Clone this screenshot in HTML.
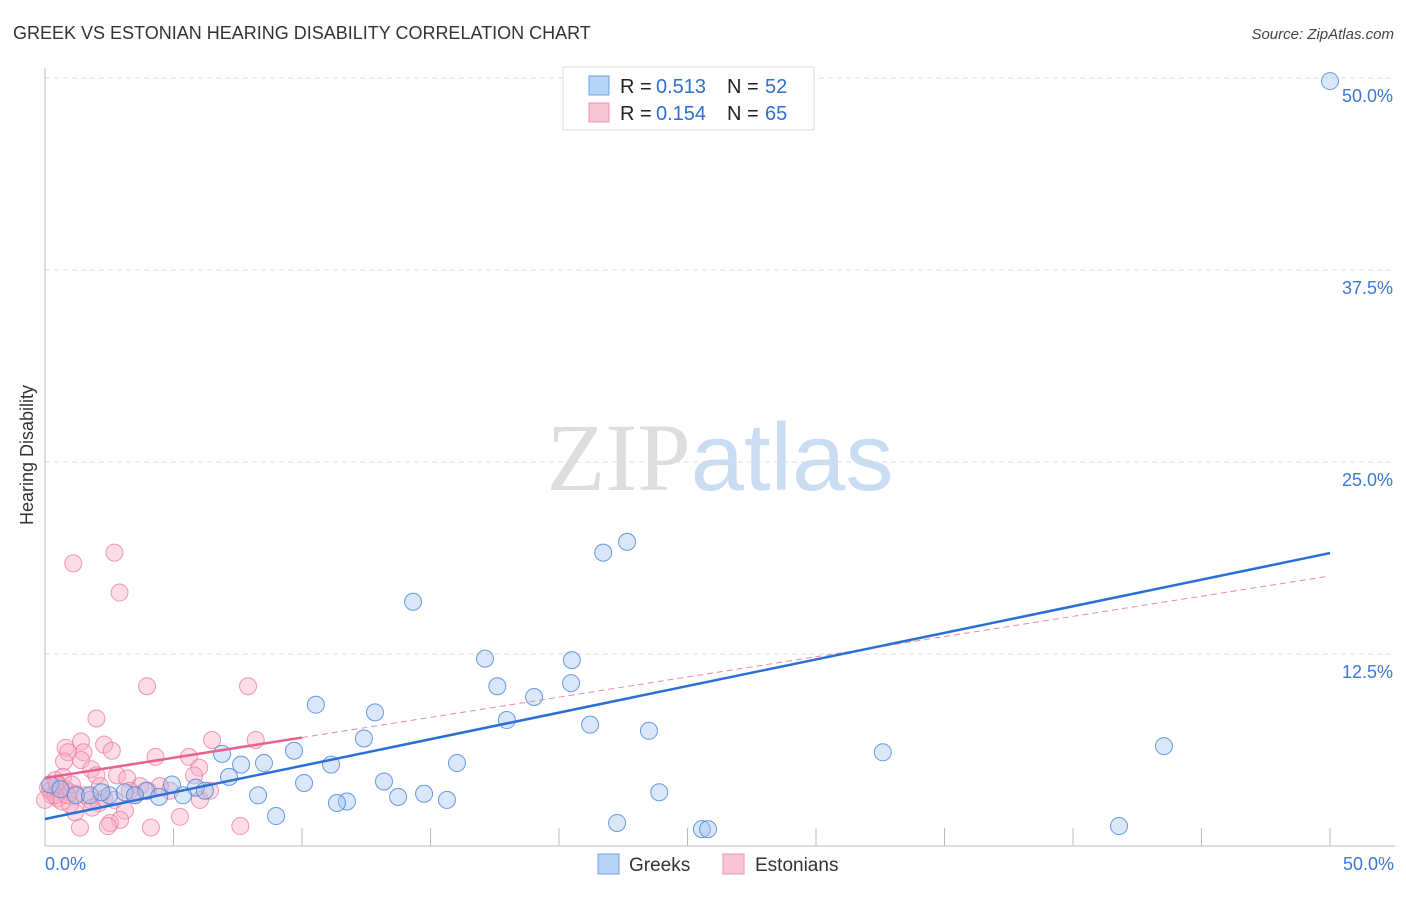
<!DOCTYPE html>
<html><head><meta charset="utf-8"><style>
body{margin:0;background:#fff;font-family:"Liberation Sans",sans-serif;}
svg text{font-family:"Liberation Sans",sans-serif;}
</style></head><body>
<svg id="chart" width="1406" height="892" xmlns="http://www.w3.org/2000/svg">
<text x="13" y="39" font-size="18" fill="#333">GREEK VS ESTONIAN HEARING DISABILITY CORRELATION CHART</text>
<text x="1394" y="39" font-size="15" fill="#444" text-anchor="end" font-style="italic">Source: ZipAtlas.com</text>
<text x="720" y="490" font-size="96" text-anchor="middle"><tspan fill="#ddd" font-family="Liberation Serif">ZIP</tspan><tspan fill="#c9dcf2">atlas</tspan></text>
<text transform="translate(33,455) rotate(-90)" font-size="18" fill="#333" text-anchor="middle">Hearing Disability</text>
<g id="grid"></g><g id="pts"></g><g id="lines"></g>
<g>
<rect x="563" y="67" width="251" height="63" fill="#fff" stroke="#ddd"/>
<rect x="589" y="76" width="20" height="19" fill="#b7d3f6" stroke="#6fa0e0"/>
<rect x="589" y="103" width="20" height="19" fill="#f9c6d6" stroke="#ef93b0"/>
<text x="620" y="93" font-size="20" fill="#222">R =</text><text x="656" y="93" font-size="20" fill="#2e6fd1">0.513</text>
<text x="727" y="93" font-size="20" fill="#222">N =</text><text x="765" y="93" font-size="20" fill="#2e6fd1">52</text>
<text x="620" y="120" font-size="20" fill="#222">R =</text><text x="656" y="120" font-size="20" fill="#2e6fd1">0.154</text>
<text x="727" y="120" font-size="20" fill="#222">N =</text><text x="765" y="120" font-size="20" fill="#2e6fd1">65</text>
</g>
<g>
<rect x="598" y="854" width="21" height="20" fill="#b7d3f6" stroke="#6fa0e0"/>
<text x="629" y="871" font-size="19" fill="#333">Greeks</text>
<rect x="723" y="854" width="21" height="20" fill="#f9c6d6" stroke="#ef93b0"/>
<text x="755" y="871" font-size="19" fill="#333">Estonians</text>
</g>
</svg>
<script>
const yTicks=[12.5,25,37.5,50];
const yTickLabels=["12.5%","25.0%","37.5%","50.0%"];
const xTickLabels=["0.0%","50.0%"];
const greeksX=[50,22.65,21.72,14.32,17.12,20.5,17.6,20.47,19.03,10.54,12.84,17.97,21.21,23.5,12.41,9.69,6.89,32.6,43.54,8.52,7.63,11.13,16.03,7.16,10.08,13.19,4.94,5.87,6.22,3.93,5.37,4.44,23.9,14.75,13.74,8.29,15.64,11.75,11.36,8.99,22.26,25.56,25.8,41.79,0.2,0.6,1.2,1.75,2.5,3.1,3.5,2.2];
const greeksY=[49.8,19.8,19.1,15.9,12.2,12.1,10.4,10.6,9.7,9.2,8.7,8.2,7.9,7.5,7.0,6.2,6.0,6.1,6.5,5.4,5.3,5.3,5.4,4.5,4.1,4.2,4.0,3.8,3.6,3.6,3.3,3.2,3.5,3.4,3.2,3.3,3.0,2.9,2.8,1.95,1.5,1.1,1.1,1.3,4.0,3.7,3.3,3.3,3.3,3.5,3.3,3.5];
const estX=[2.7,1.1,2.9,3.97,7.9,2.0,6.5,8.2,2.3,1.4,0.8,0.9,1.5,2.6,4.3,5.6,6.0,5.8,1.4,0.74,1.8,2.0,2.8,3.2,3.7,0.4,0.6,0.8,0.97,1.2,0.2,0.27,0.5,0.66,1.55,1.75,2.1,2.3,2.7,3.11,2.92,2.53,2.45,1.17,0.97,1.36,4.12,5.25,7.6,6.03,6.42,4.86,4.47,3.3,1.83,0.4,0.12,0.7,2.14,3.5,4.0,0,0.47,0.86,1.05];
const estY=[19.1,18.4,16.5,10.4,10.4,8.3,6.9,6.9,6.6,6.8,6.4,6.1,6.1,6.2,5.8,5.8,5.1,4.6,5.6,5.5,5.0,4.6,4.6,4.4,3.9,4.3,3.9,3.7,3.5,3.4,3.6,3.3,3.1,2.9,3.3,3.0,2.8,3.1,3.0,2.3,1.7,1.5,1.3,2.2,2.7,1.2,1.2,1.9,1.3,3.0,3.6,3.6,3.9,3.6,2.5,3.3,3.8,4.5,3.9,3.3,3.6,3.0,4.0,3.3,4.0];
const blueFit=[1.76,19.07];
const pinkFit=[4.43,17.58];
const NS="http://www.w3.org/2000/svg";
const sx=v=>45+v/50*1285, sy=v=>846-v/50*768;
function mk(t,a,p){const e=document.createElementNS(NS,t);for(const k in a)e.setAttribute(k,a[k]);p.appendChild(e);return e;}
const grid=document.getElementById('grid');
yTicks.forEach((t,i)=>{
 const g=mk('line',{x1:45,x2:1395,y1:sy(t),y2:sy(t),stroke:'#ddd','stroke-dasharray':'5,4'},grid);
 
 
 const tx=mk('text',{x:1393,y:sy(t)+24,'font-size':18,fill:'#3b78d6','text-anchor':'end'},grid);
 tx.textContent=yTickLabels[i];
 
 
});
const ax=mk('line',{x1:45,x2:45,y1:68,y2:846,stroke:'#bbb'},grid);


const bx=mk('line',{x1:45,x2:1395,y1:846,y2:846,stroke:'#bbb'},grid);


for(let i=1;i<=10;i++){const t=mk('line',{x1:sx(i*5),x2:sx(i*5),y1:828,y2:846,stroke:'#bbb'},grid);
 
 }
[[0,'start',45],[50,'end',1394]].forEach((d,i)=>{const t=mk('text',{x:d[2],y:870,'font-size':18,fill:'#3b78d6','text-anchor':d[1]},grid);t.textContent=xTickLabels[i];
 
 });
const pts=document.getElementById('pts');
estX.forEach((x,i)=>{const c=mk('circle',{cx:sx(x),cy:sy(estY[i]),r:8.5,fill:'rgba(247,170,195,0.4)',stroke:'rgba(235,120,155,0.75)','stroke-width':1},pts);
 
 });
greeksX.forEach((x,i)=>{const c=mk('circle',{cx:sx(x),cy:sy(greeksY[i]),r:8.5,fill:'rgba(160,196,240,0.4)',stroke:'rgba(70,130,215,0.8)','stroke-width':1},pts);
 
 });
const L=document.getElementById('lines');
const pf=x=>pinkFit[0]+(pinkFit[1]-pinkFit[0])*x/50, bf=x=>blueFit[0]+(blueFit[1]-blueFit[0])*x/50;
let l=mk('line',{x1:sx(10),y1:sy(pf(10)),x2:sx(50),y2:sy(pf(50)),stroke:'#e88aa8','stroke-width':1,'stroke-dasharray':'6,4'},L);


l=mk('line',{x1:sx(0),y1:sy(pf(0)),x2:sx(10),y2:sy(pf(10)),stroke:'#e8628c','stroke-width':2.5},L);


l=mk('line',{x1:sx(0),y1:sy(bf(0)),x2:sx(50),y2:sy(bf(50)),stroke:'#2a6fd6','stroke-width':2.5},L);


</script>
</body></html>
